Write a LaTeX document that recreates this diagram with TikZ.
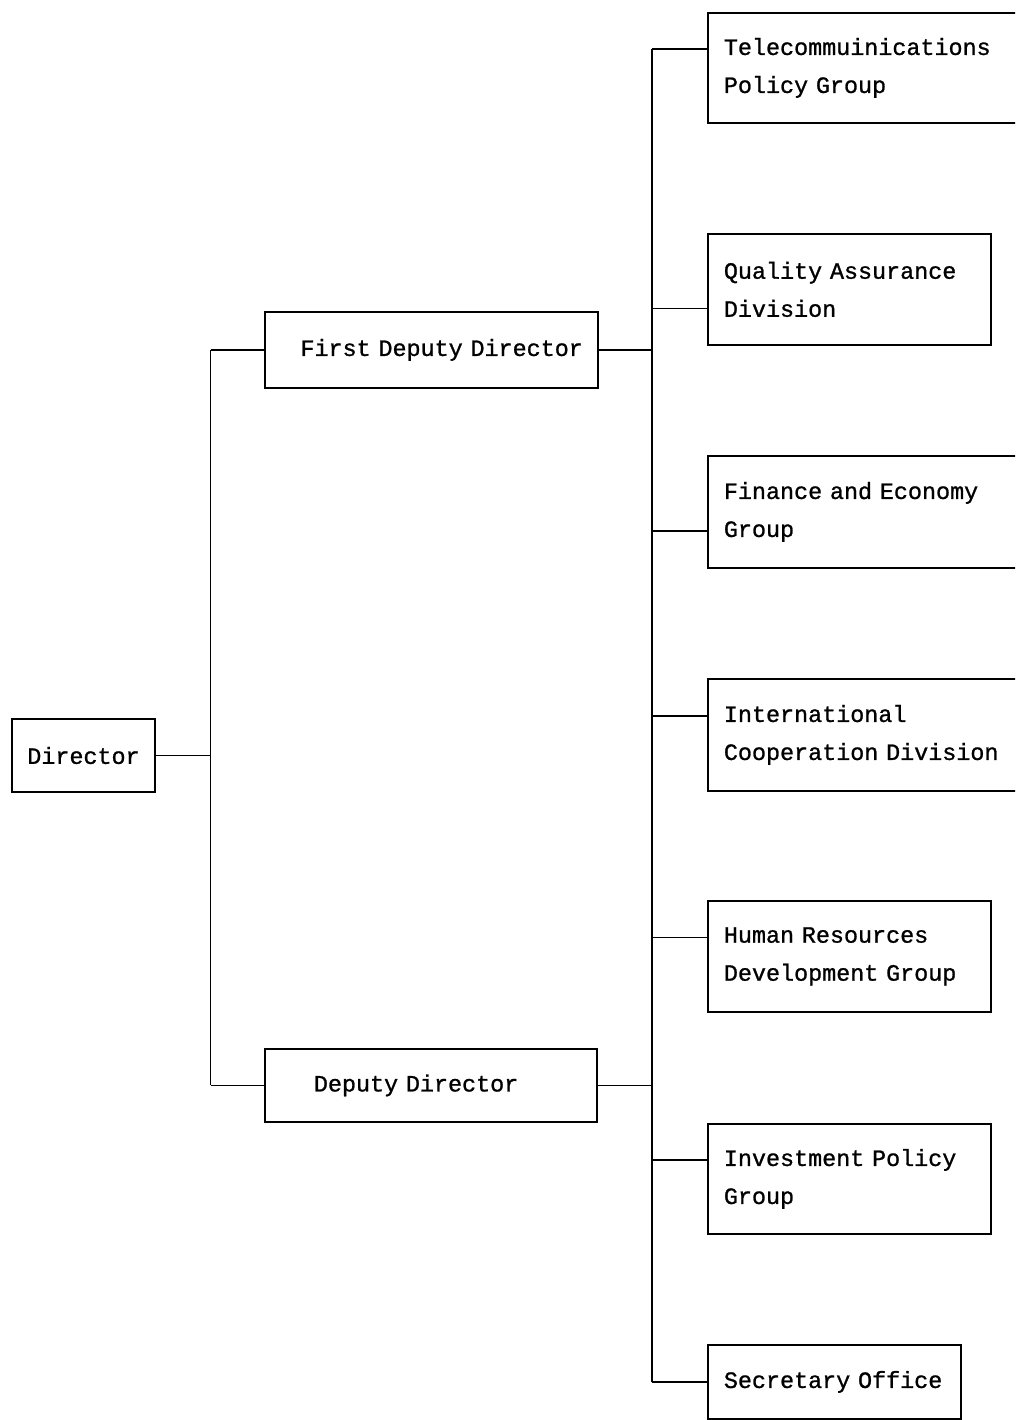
\documentclass[tikz,border=0pt]{standalone}
\usepackage{fontspec}
\setmonofont[FakeBold=1, WordSpace=2]{Liberation Mono}
\usetikzlibrary{positioning}
\newcommand\orgfont{\ttfamily\fontsize{23.4}{38}\selectfont}

\begin{document}
\begin{tikzpicture}[x=1pt, y=-1pt,
        unit/.style={draw, line width=1.8pt, font=\orgfont, inner ysep=0pt},
        dept/.style={unit, anchor=north west, inner xsep=16pt, align=left},
        link/.style={line width=1.8pt}]
        \useasboundingbox (0,0) rectangle (1015,1420);
        \clip (0,0) rectangle (1015,1420);

        % director and deputies
        \node[unit, minimum width=143pt, minimum height=73pt] (dir) at (83.5,755.5) {Director};
        \node[unit, anchor=north west, minimum height=76pt, text width=303pt, inner xsep=15pt, align=right] (fdd) at (264,311) {First Deputy Director};
        \node[unit, anchor=north west, minimum height=73pt, text width=234pt, inner xsep=49pt, align=left] (dd) at (264,1048) {Deputy Director};

        % divisions
        \node[dept, text width=308pt, minimum height=110pt] (tel) at (707,12) {Telecommuinications\\Policy Group};
        \node[dept, text width=251pt, minimum height=111pt] (qua) at (707,233) {Quality Assurance\\Division};
        \node[dept, text width=308pt, minimum height=112pt] (fin) at (707,455) {Finance and Economy\\Group};
        \node[dept, text width=308pt, minimum height=112pt] (int) at (707,678) {International\\Cooperation Division};
        \node[dept, text width=251pt, minimum height=111pt] (hum) at (707,900) {Human Resources\\Development Group};
        \node[dept, text width=251pt, minimum height=110pt] (inv) at (707,1123) {Investment Policy\\Group};
        \node[dept, text width=221pt, minimum height=74pt] (sec) at (707,1344) {Secretary Office};

        % left trunk
        \coordinate (lt) at (210.5,0);
        \draw[link] (dir.east) -- (dir.east -| lt);
        \draw[link] (fdd.west -| lt) -- (dd.west -| lt);
        \draw[link] (fdd.west -| lt) -- (fdd.west);
        \draw[link] (dd.west -| lt) -- (dd.west);

        % right trunk
        \coordinate (rt) at (652,0);
        \draw[link] (fdd.east) -- (fdd.east -| rt);
        \draw[link] (dd.east) -- (dd.east -| rt);
        \foreach \n/\s in {tel/19,qua/-19,fin/-19,int/19,hum/19,inv/19,sec/0} {
            \coordinate (\n-in) at ([yshift=\s pt]\n.west);
            \draw[link] (\n-in) -- (\n-in -| rt);
        }
        \draw[link] (tel-in -| rt) -- (sec-in -| rt);

    \end{tikzpicture}
\end{document}
